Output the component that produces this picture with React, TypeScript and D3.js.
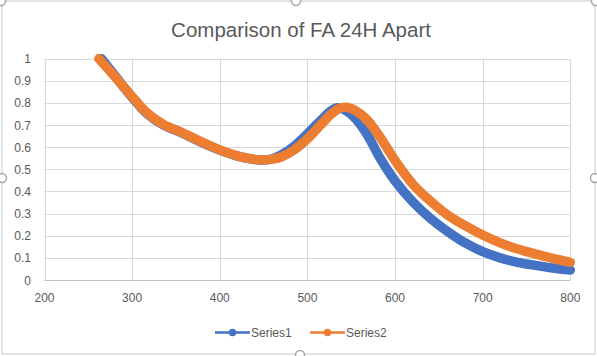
import React from "react";
import * as d3 from "d3";

const title = "Comparison of FA 24H Apart";
const xTicks = [200, 300, 400, 500, 600, 700, 800];
const yTicks = [0, 0.1, 0.2, 0.3, 0.4, 0.5, 0.6, 0.7, 0.8, 0.9, 1];
const yTickLabels = ["0", "0.1", "0.2", "0.3", "0.4", "0.5", "0.6", "0.7", "0.8", "0.9", "1"];
const seriesNames = ["Series1", "Series2"];
const seriesColors = ["#4472C4", "#ED7D31"];

const s1x = [265, 280, 298, 317, 336, 355, 374, 400, 423, 446, 460, 470, 485, 500, 515, 525, 533, 541, 550, 560, 570, 583, 600, 621, 640, 659, 678, 700, 720, 740, 760, 780, 800];
const s1y = [1.0, 0.925, 0.835, 0.752, 0.7, 0.668, 0.632, 0.587, 0.557, 0.542, 0.548, 0.565, 0.605, 0.66, 0.72, 0.758, 0.778, 0.772, 0.748, 0.705, 0.645, 0.55, 0.448, 0.35, 0.28, 0.222, 0.172, 0.128, 0.1, 0.08, 0.066, 0.054, 0.045];

const s2x = [262, 280, 298, 317, 336, 355, 374, 400, 423, 446, 460, 470, 485, 500, 515, 525, 533, 541, 550, 560, 570, 583, 600, 621, 640, 659, 678, 700, 720, 740, 760, 780, 800];
const s2y = [1.0, 0.92, 0.838, 0.755, 0.702, 0.67, 0.634, 0.588, 0.558, 0.543, 0.546, 0.556, 0.588, 0.638, 0.7, 0.742, 0.768, 0.78, 0.775, 0.752, 0.715, 0.645, 0.54, 0.43, 0.358, 0.297, 0.25, 0.203, 0.168, 0.14, 0.118, 0.098, 0.08];

const W = 597;
const H = 356;
const left = 44.5;
const right = 570.3;
const top = 58.7;
const bottom = 280;

export default function App() {
  const x = d3.scaleLinear().domain([200, 800]).range([left, right]);
  const y = d3.scaleLinear().domain([0, 1]).range([bottom, top]);
  const line = d3
    .line<[number, number]>()
    .x((d) => x(d[0]))
    .y((d) => y(d[1]))
    .curve(d3.curveCatmullRom.alpha(0.5));
  const series = [
    s1x.map((v, i) => [v, s1y[i]] as [number, number]),
    s2x.map((v, i) => [v, s2y[i]] as [number, number]),
  ];
  const font = "'Liberation Sans', Arial, sans-serif";
  const textColor = "#595959";
  const handles = [
    [1, 1], [296, 1], [596, 1], [2, 178], [595, 178], [300, 355],
  ];
  const legendX = [215, 310];
  return (
    <div style={{ position: "absolute", left: 0, top: 0 }}>
      <svg width={W} height={H} style={{ display: "block" }}>
        <rect x={0} y={0} width={W} height={H} fill="#ffffff" />
        <rect x={2} y={1} width={593} height={353} fill="none" stroke="#c8c8c8" strokeWidth={1} />
        <text x={301} y={37} textAnchor="middle" fontFamily={font} fontSize={20.5} fill={textColor}>
          {title}
        </text>
        {yTicks.map((t) => (
          <line key={"gy" + t} x1={left} x2={right} y1={Math.round(y(t)) + 0.5} y2={Math.round(y(t)) + 0.5} stroke={t === 0 ? "#bfbfbf" : "#d9d9d9"} strokeWidth={1} />
        ))}
        {xTicks.map((t) => (
          <line key={"gx" + t} x1={Math.round(x(t)) + 0.5} x2={Math.round(x(t)) + 0.5} y1={top} y2={bottom} stroke="#d9d9d9" strokeWidth={1} />
        ))}
        {yTicks.map((t, i) => (
          <text key={"ly" + t} x={31} y={y(t) + 4.5} textAnchor="end" fontFamily={font} fontSize={12} fill={textColor}>
            {yTickLabels[i]}
          </text>
        ))}
        {xTicks.map((t) => (
          <text key={"lx" + t} x={x(t)} y={302} textAnchor="middle" fontFamily={font} fontSize={12} fill={textColor}>
            {t}
          </text>
        ))}
        {series.map((s, i) => (
          <g key={"s" + i}>
            <path d={line(s) || ""} fill="none" stroke={seriesColors[i]} strokeWidth={9.5} strokeLinecap="round" strokeLinejoin="round" />
          </g>
        ))}
        {seriesNames.map((n, i) => (
          <g key={"lg" + i}>
            <line x1={legendX[i]} x2={legendX[i] + 35} y1={332.5} y2={332.5} stroke={seriesColors[i]} strokeWidth={2.5} />
            <circle cx={legendX[i] + 17.5} cy={332.5} r={3.8} fill={seriesColors[i]} />
            <text x={legendX[i] + 36} y={337} fontFamily={font} fontSize={12} fill={textColor}>
              {n}
            </text>
          </g>
        ))}
        {handles.map((h, i) => (
          <circle key={"h" + i} cx={h[0]} cy={h[1]} r={4.5} fill="#ffffff" stroke="#a6a6a6" strokeWidth={1.5} />
        ))}
      </svg>
    </div>
  );
}
